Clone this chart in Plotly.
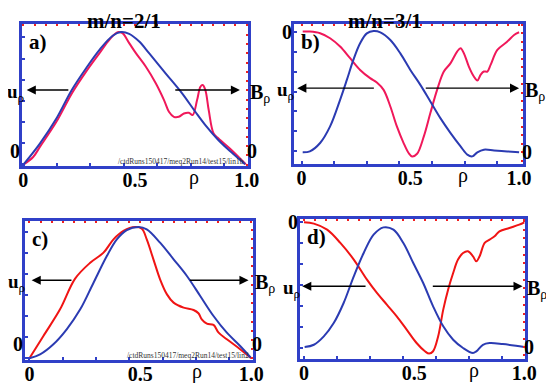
import plotly.graph_objects as go

W, H = 554, 386
PAGE_PAD = 8  # the page adds an 8px body margin round the figure
FW, FH = W - PAGE_PAD, H - PAGE_PAD

# ---- panel a) m/n=2/1 ----
a_red_rho = [0, 0.044, 0.074, 0.148, 0.219, 0.281, 0.341, 0.385, 0.422, 0.444, 0.474, 0.504, 0.548,
             0.593, 0.63, 0.652, 0.674, 0.696, 0.719, 0.741, 0.758, 0.778, 0.793, 0.803, 0.815, 0.83,
             0.852, 0.874, 0.933, 0.996]
a_red_val = [0, 0.058, 0.134, 0.323, 0.543, 0.702, 0.841, 0.942, 1.0, 0.992, 0.917, 0.841, 0.74,
             0.614, 0.487, 0.399, 0.361, 0.361, 0.386, 0.391, 0.374, 0.487, 0.588, 0.601, 0.563, 0.412,
             0.235, 0.197, 0.109, 0.003]
a_blue_rho = [0, 0.074, 0.148, 0.215, 0.281, 0.341, 0.4, 0.437, 0.474, 0.519, 0.563, 0.637, 0.711,
              0.77, 0.815, 0.874, 0.933, 0.993]
a_blue_val = [0, 0.159, 0.348, 0.558, 0.727, 0.866, 0.972, 1.0, 0.987, 0.929, 0.841, 0.689, 0.538,
              0.399, 0.298, 0.184, 0.091, 0.003]

# ---- panel b) m/n=3/1 ----
b_red_rho = [0.005, 0.038, 0.085, 0.131, 0.177, 0.223, 0.269, 0.315, 0.346, 0.377, 0.408, 0.438,
             0.469, 0.492, 0.508, 0.531, 0.562, 0.592, 0.623, 0.654, 0.685, 0.715, 0.731, 0.746,
             0.769, 0.792, 0.808, 0.823, 0.838, 0.854, 0.869, 0.9, 0.946, 0.977, 1.0]
b_red_val = [0, 0.0, -0.013, -0.053, -0.12, -0.213, -0.307, -0.373, -0.408, -0.467, -0.6, -0.76,
             -0.893, -0.973, -1.0, -0.979, -0.84, -0.653, -0.467, -0.32, -0.253, -0.16, -0.133,
             -0.173, -0.28, -0.36, -0.392, -0.347, -0.32, -0.32, -0.267, -0.147, -0.08, -0.027, -0.005]
b_blue_rho = [0.005, 0.038, 0.085, 0.131, 0.177, 0.208, 0.238, 0.269, 0.3, 0.331, 0.362, 0.408, 0.454,
              0.5, 0.546, 0.592, 0.638, 0.685, 0.731, 0.762, 0.785, 0.808, 0.838, 0.885, 0.946, 1.0]
b_blue_val = [0, 0.008, 0.077, 0.214, 0.433, 0.597, 0.762, 0.899, 0.981, 1.0, 0.989, 0.926, 0.816,
              0.679, 0.556, 0.419, 0.282, 0.159, 0.049, -0.019, -0.033, 0, 0.022, 0.016, 0.008, 0]

# ---- panel c) ----
c_red_rho = [0, 0.063, 0.138, 0.206, 0.274, 0.334, 0.379, 0.424, 0.477, 0.507, 0.529, 0.559, 0.589,
             0.62, 0.65, 0.695, 0.74, 0.762, 0.777, 0.8, 0.83, 0.853, 0.89, 0.95, 1.0]
c_red_val = [0, 0.17, 0.373, 0.607, 0.728, 0.805, 0.906, 0.97, 1.0, 0.987, 0.906, 0.754, 0.602,
             0.487, 0.424, 0.386, 0.368, 0.343, 0.297, 0.264, 0.254, 0.195, 0.145, 0.069, 0]
c_blue_rho = [0, 0.048, 0.108, 0.168, 0.229, 0.289, 0.349, 0.394, 0.439, 0.492, 0.529, 0.589, 0.65,
              0.71, 0.77, 0.83, 0.89, 0.95, 0.998]
c_blue_val = [0, 0.03, 0.107, 0.221, 0.373, 0.576, 0.779, 0.906, 0.977, 1.0, 0.982, 0.881, 0.754,
              0.627, 0.475, 0.322, 0.195, 0.094, 0.005]

# ---- panel d) ----
d_red_rho = [0, 0.045, 0.105, 0.165, 0.226, 0.286, 0.331, 0.376, 0.421, 0.466, 0.511, 0.549, 0.568,
             0.586, 0.609, 0.632, 0.654, 0.677, 0.699, 0.722, 0.744, 0.767, 0.782, 0.797, 0.82, 0.842,
             0.865, 0.887, 0.932, 0.977, 1.0]
d_red_val = [0, -0.01, -0.056, -0.157, -0.284, -0.437, -0.538, -0.627, -0.716, -0.817, -0.919, -0.982,
             -1.0, -0.982, -0.868, -0.665, -0.513, -0.386, -0.284, -0.234, -0.221, -0.259, -0.297,
             -0.259, -0.157, -0.132, -0.107, -0.069, -0.043, -0.018, 0]
d_blue_rho = [0.003, 0.045, 0.09, 0.135, 0.18, 0.226, 0.271, 0.316, 0.361, 0.406, 0.451, 0.496, 0.541,
              0.586, 0.632, 0.677, 0.722, 0.767, 0.782, 0.812, 0.842, 0.902, 0.962, 1.0]
d_blue_val = [0, 0.019, 0.089, 0.2, 0.368, 0.591, 0.786, 0.939, 1.0, 0.981, 0.869, 0.702, 0.535,
              0.34, 0.173, 0.061, -0.008, -0.05, -0.036, 0.019, 0.033, 0.025, 0.011, 0]

x_ticks = [0, 0.5, 1.0]
x_tick_text = ["0", "0.5", "1.0"]

BLUE = "#2b3bb2"
FRAME = "#3040c8"
TICKRED = "#f02020"
FONT = "Liberation Serif"


def px(x):
    return (x - PAGE_PAD) / FW


def py(y):
    return 1 - (y - PAGE_PAD) / FH


panels = [
    # box in screen pixels (l, t, r, b), x range, red (left) range, blue (right) range
    dict(red=(a_red_rho, a_red_val), blue=(a_blue_rho, a_blue_val), box=(22, 24, 248, 166),
         xr=[-0.006, 1.006], rr=[-0.01, 1.061], br=[-0.01, 1.061], rc="#f0185a",
         title="m/n=2/1", title_x=124, tag="a)", arrow_y=0.563, arrows=(0.215, 0.015, 0.667, 0.97),
         path="/ctdRuns150417/meq2Run14/test15/lin1b", rho_x=194,
         zero_pos=("outside top", "outside top")),
    dict(red=(b_red_rho, b_red_val), blue=(b_blue_rho, b_blue_val), box=(294, 24, 523, 164),
         xr=[-0.035, 1.018], rr=[-1.061, 0.061], br=[-0.096, 1.058], rc="#f0185a",
         title="m/n=3/1", title_x=385, tag="b)", arrow_y=-0.453, arrows=(0.346, -0.02, 0.557, 1.0),
         path=None, rho_x=463, zero_pos=("outside", "outside")),
    dict(red=(c_red_rho, c_red_val), blue=(c_blue_rho, c_blue_val), box=(25, 221, 253, 360),
         xr=[-0.02, 1.008], rr=[-0.013, 1.046], br=[-0.013, 1.046], rc="#f01414",
         title=None, title_x=None, tag="c)", arrow_y=0.595, arrows=(0.203, 0.01, 0.71, 0.988),
         path="/ctdRuns150417/meq2Run14/test15/lin2", rho_x=197,
         zero_pos=("outside top", "outside top")),
    dict(red=(d_red_rho, d_red_val), blue=(d_blue_rho, d_blue_val), box=(300, 219, 525, 359),
         xr=[-0.018, 1.003], rr=[-1.041, 0.025], br=[-0.1, 1.07], rc="#f01414",
         title=None, title_x=None, tag="d)", arrow_y=-0.487, arrows=(0.293, -0.008, 0.571, 0.992),
         path=None, rho_x=474, zero_pos=("outside", "outside")),
]


def name(kind, n):
    return kind if n == 1 else "%s%d" % (kind, n)


fig = go.Figure()
layout = {}
annotations = []
tick_font = dict(family=FONT, size=20, color="black", weight="bold")

for i, p in enumerate(panels):
    k1, k2 = 2 * i + 1, 2 * i + 2   # k1: bottom x / left y (red), k2: top x / right y (blue)
    l, t, r, b = p["box"]
    dx = [px(l), px(r)]
    dy = [py(b), py(t)]

    fig.add_trace(go.Scatter(x=p["red"][0], y=p["red"][1], mode="lines", line_shape="spline",
                             line=dict(color=p["rc"], width=2), xaxis=name("x", k1),
                             yaxis=name("y", k1), showlegend=False))
    fig.add_trace(go.Scatter(x=p["blue"][0], y=p["blue"][1], mode="lines", line_shape="spline",
                             line=dict(color=BLUE, width=2), xaxis=name("x", k2),
                             yaxis=name("y", k2), showlegend=False))

    layout[name("xaxis", k1)] = dict(
        domain=dx, range=p["xr"], anchor=name("y", k1), showline=True, mirror=True, linecolor=FRAME,
        linewidth=3, showgrid=False, zeroline=False, tickmode="array", tickvals=x_ticks,
        ticktext=x_tick_text, ticks="", ticklen=0, tickfont=tick_font, automargin=False,
        ticklabelstandoff=-6,
        minor=dict(ticks="inside", ticklen=3, tickwidth=2, tickcolor=FRAME, dtick=0.15, tick0=0,
                   showgrid=False))
    layout[name("xaxis", k2)] = dict(
        domain=dx, range=p["xr"], overlaying=name("x", k1), side="top", anchor=name("y", k2),
        showline=False, showgrid=False, zeroline=False, showticklabels=False, tickmode="array",
        tickvals=[], ticks="", automargin=False,
        minor=dict(ticks="inside", ticklen=2, tickwidth=2, tickcolor=TICKRED, dtick=0.05, tick0=0,
                   showgrid=False))
    layout[name("yaxis", k1)] = dict(
        domain=dy, range=p["rr"], anchor=name("x", k1), showline=True, mirror=True, linecolor=FRAME,
        linewidth=3, showgrid=False, zeroline=False, tickmode="array", tickvals=[0], ticktext=["0"],
        ticks="", ticklen=0, tickfont=tick_font, automargin=False, ticklabelstandoff=-5,
        ticklabelposition=p["zero_pos"][0],
        minor=dict(ticks="inside", ticklen=3, tickwidth=2, tickcolor=FRAME, dtick=0.16, tick0=0,
                   showgrid=False))
    layout[name("yaxis", k2)] = dict(
        domain=dy, range=p["br"], overlaying=name("y", k1), side="right", anchor=name("x", k2),
        showline=False, showgrid=False, zeroline=False, tickmode="array", tickvals=[0], ticktext=["0"],
        ticks="", ticklen=0, tickfont=tick_font, automargin=False, ticklabelstandoff=-2,
        ticklabelposition=p["zero_pos"][1],
        minor=dict(ticks="inside", ticklen=2, tickwidth=2, tickcolor=TICKRED, dtick=0.07, tick0=0,
                   showgrid=False))

    # arrows pointing to the left (u_rho) and right (B_rho) axes
    lt, lh, rt, rh = p["arrows"]
    ya = p["arrow_y"]
    for tail, head in ((lt, lh), (rt, rh)):
        annotations.append(dict(x=head, y=ya, xref=name("x", k1), yref=name("y", k1), ax=tail,
                                ay=ya, axref=name("x", k1), ayref=name("y", k1), text=" ",
                                showarrow=True, arrowhead=2, arrowsize=1.3, arrowwidth=1.4,
                                arrowcolor="black"))
    ypix = t + (p["rr"][1] - ya) / (p["rr"][1] - p["rr"][0]) * (b - t)
    u_x = max(l + 2, PAGE_PAD + 18)
    annotations.append(dict(x=px(u_x), y=py(ypix + 3), xref="paper", yref="paper", xanchor="right",
                            yanchor="middle", showarrow=False, borderpad=0,
                            text="<b>u</b><sub>ρ</sub>",
                            font=dict(family=FONT, size=19, color="black")))
    annotations.append(dict(x=px(r + 1), y=py(ypix + 3), xref="paper", yref="paper", xanchor="left",
                            yanchor="middle", showarrow=False, borderpad=0,
                            text="<b>B</b><sub>ρ</sub>",
                            font=dict(family=FONT, size=20, color="black")))
    # panel tag
    annotations.append(dict(x=px(l + 5), y=py(t + 4), xref="paper", yref="paper", xanchor="left",
                            yanchor="top", showarrow=False, text="<b>%s</b>" % p["tag"],
                            font=dict(family=FONT, size=21, color="black")))
    # rho label under the axis
    annotations.append(dict(x=px(p["rho_x"]), y=py(b - 2), xref="paper", yref="paper",
                            xanchor="center", yanchor="top", showarrow=False, text="ρ",
                            font=dict(family=FONT, size=20, color="black")))
    if p["title"]:
        annotations.append(dict(x=px(p["title_x"]), y=1, xref="paper", yref="paper",
                                xanchor="center", yanchor="top", showarrow=False, borderpad=0,
                                text="<b>%s</b>" % p["title"],
                                font=dict(family=FONT, size=21, color="black")))
    if p["path"]:
        annotations.append(dict(x=px(r - 2), y=py(b + 2), xref="paper", yref="paper",
                                xanchor="right", yanchor="bottom", showarrow=False, text=p["path"],
                                font=dict(family=FONT, size=7.5, color="#333333")))

fig.update_layout(width=FW, height=FH, margin=dict(l=0, r=0, t=0, b=0, autoexpand=False),
                  paper_bgcolor="white", plot_bgcolor="white", annotations=annotations, **layout)

fig.write_html("out.html")
